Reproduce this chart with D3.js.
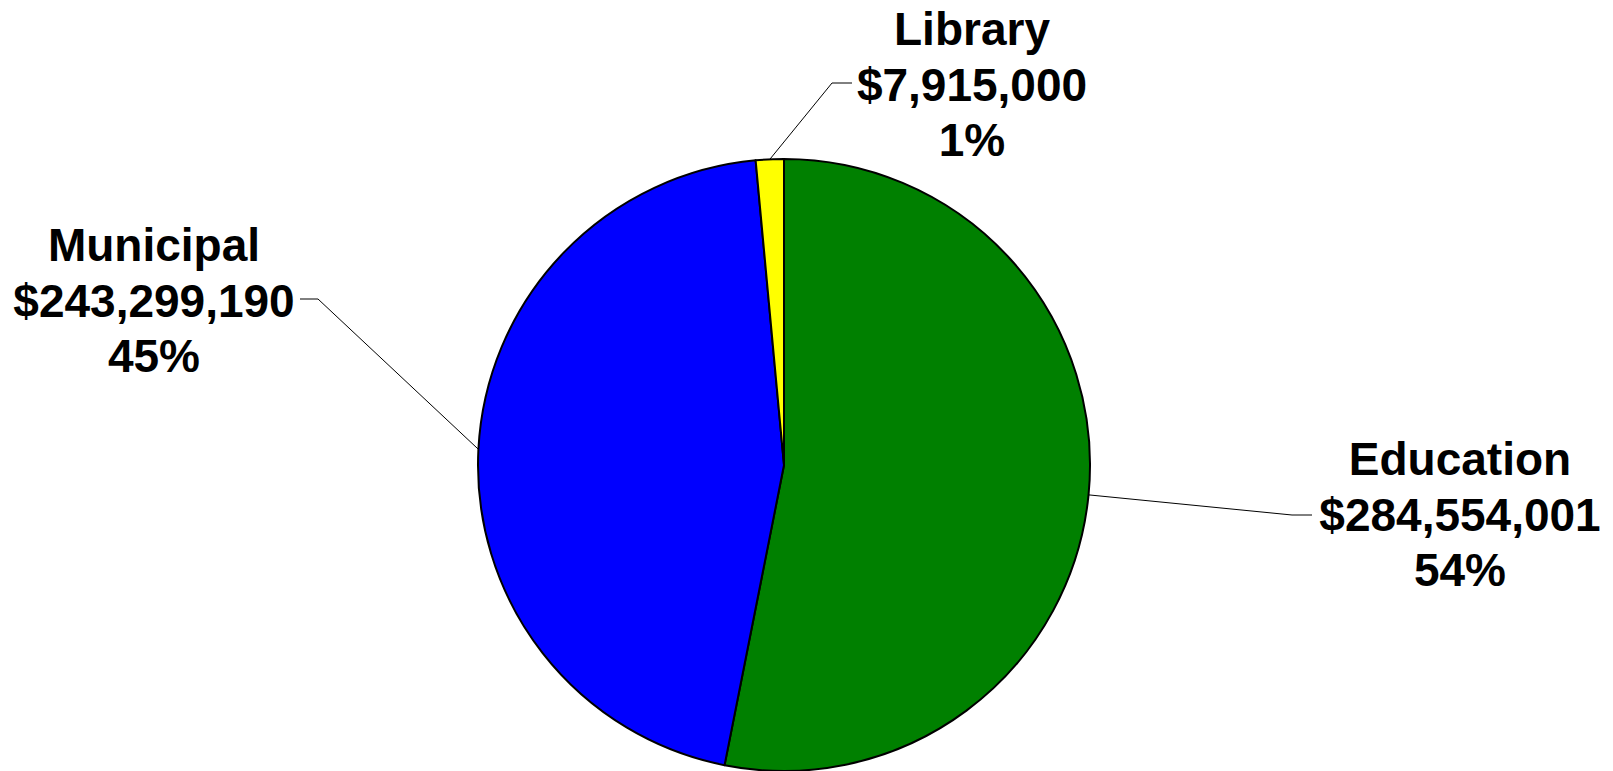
<!DOCTYPE html>
<html>
<head>
<meta charset="utf-8">
<script src="https://cdn.jsdelivr.net/npm/d3@7"></script>
<style>
  body { margin: 0; background: #fff; }
  svg { display: block; }
  text { font-family: "Liberation Sans", Arial, sans-serif; font-weight: bold; fill: #000; }
</style>
</head>
<body>
<div id="chart"></div>
<script>
// data
var categories = ["Education", "Municipal", "Library"];
var amounts = [284554001, 243299190, 7915000];
var pctLabels = ["54%", "45%", "1%"];
var colors = ["#008000", "#0000ff", "#ffff00"];

var width = 1613, height = 771;
var cx = 784, cy = 465, radius = 306;

// where each label block sits, and the leader's elbow/end points
var labelLayout = {
  Education: { x: 1460, y: 475, elbow: [1292, 515], end: [1312, 515] },
  Municipal: { x: 154, y: 261, elbow: [318, 299], end: [300, 299] },
  Library:   { x: 972, y: 45,  elbow: [832, 83],  end: [852, 83] }
};
var lineGap = 55.5;

var svg = d3.select("#chart").append("svg")
  .attr("width", width)
  .attr("height", height);

var data = categories.map(function (c, i) {
  return { name: c, value: amounts[i], pct: pctLabels[i], color: colors[i] };
});

var pie = d3.pie().sort(null).value(function (d) { return d.value; });
var arcs = pie(data);

var arc = d3.arc().innerRadius(0).outerRadius(radius);
var edgeArc = d3.arc().innerRadius(radius).outerRadius(radius);

var g = svg.append("g").attr("transform", "translate(" + cx + "," + cy + ")");

g.selectAll("path.slice")
  .data(arcs)
  .enter().append("path")
  .attr("class", "slice")
  .attr("d", arc)
  .attr("fill", function (d) { return d.data.color; })
  .attr("stroke", "#000")
  .attr("stroke-width", 2)
  .attr("stroke-linejoin", "round");

// leader lines + labels
var fmt = d3.format(",");
arcs.forEach(function (d) {
  var lay = labelLayout[d.data.name];
  var c = edgeArc.centroid(d);
  var pts = [[cx + c[0], cy + c[1]], lay.elbow, lay.end];
  svg.append("path")
    .attr("d", d3.line()(pts))
    .attr("fill", "none")
    .attr("stroke", "#000")
    .attr("stroke-width", 1);

  var t = svg.append("text")
    .attr("text-anchor", "middle")
    .style("font-size", "46px");
  [d.data.name, "$" + fmt(d.data.value), d.data.pct].forEach(function (s, i) {
    t.append("tspan")
      .attr("x", lay.x)
      .attr("y", lay.y + i * lineGap)
      .text(s);
  });
});
</script>
</body>
</html>
